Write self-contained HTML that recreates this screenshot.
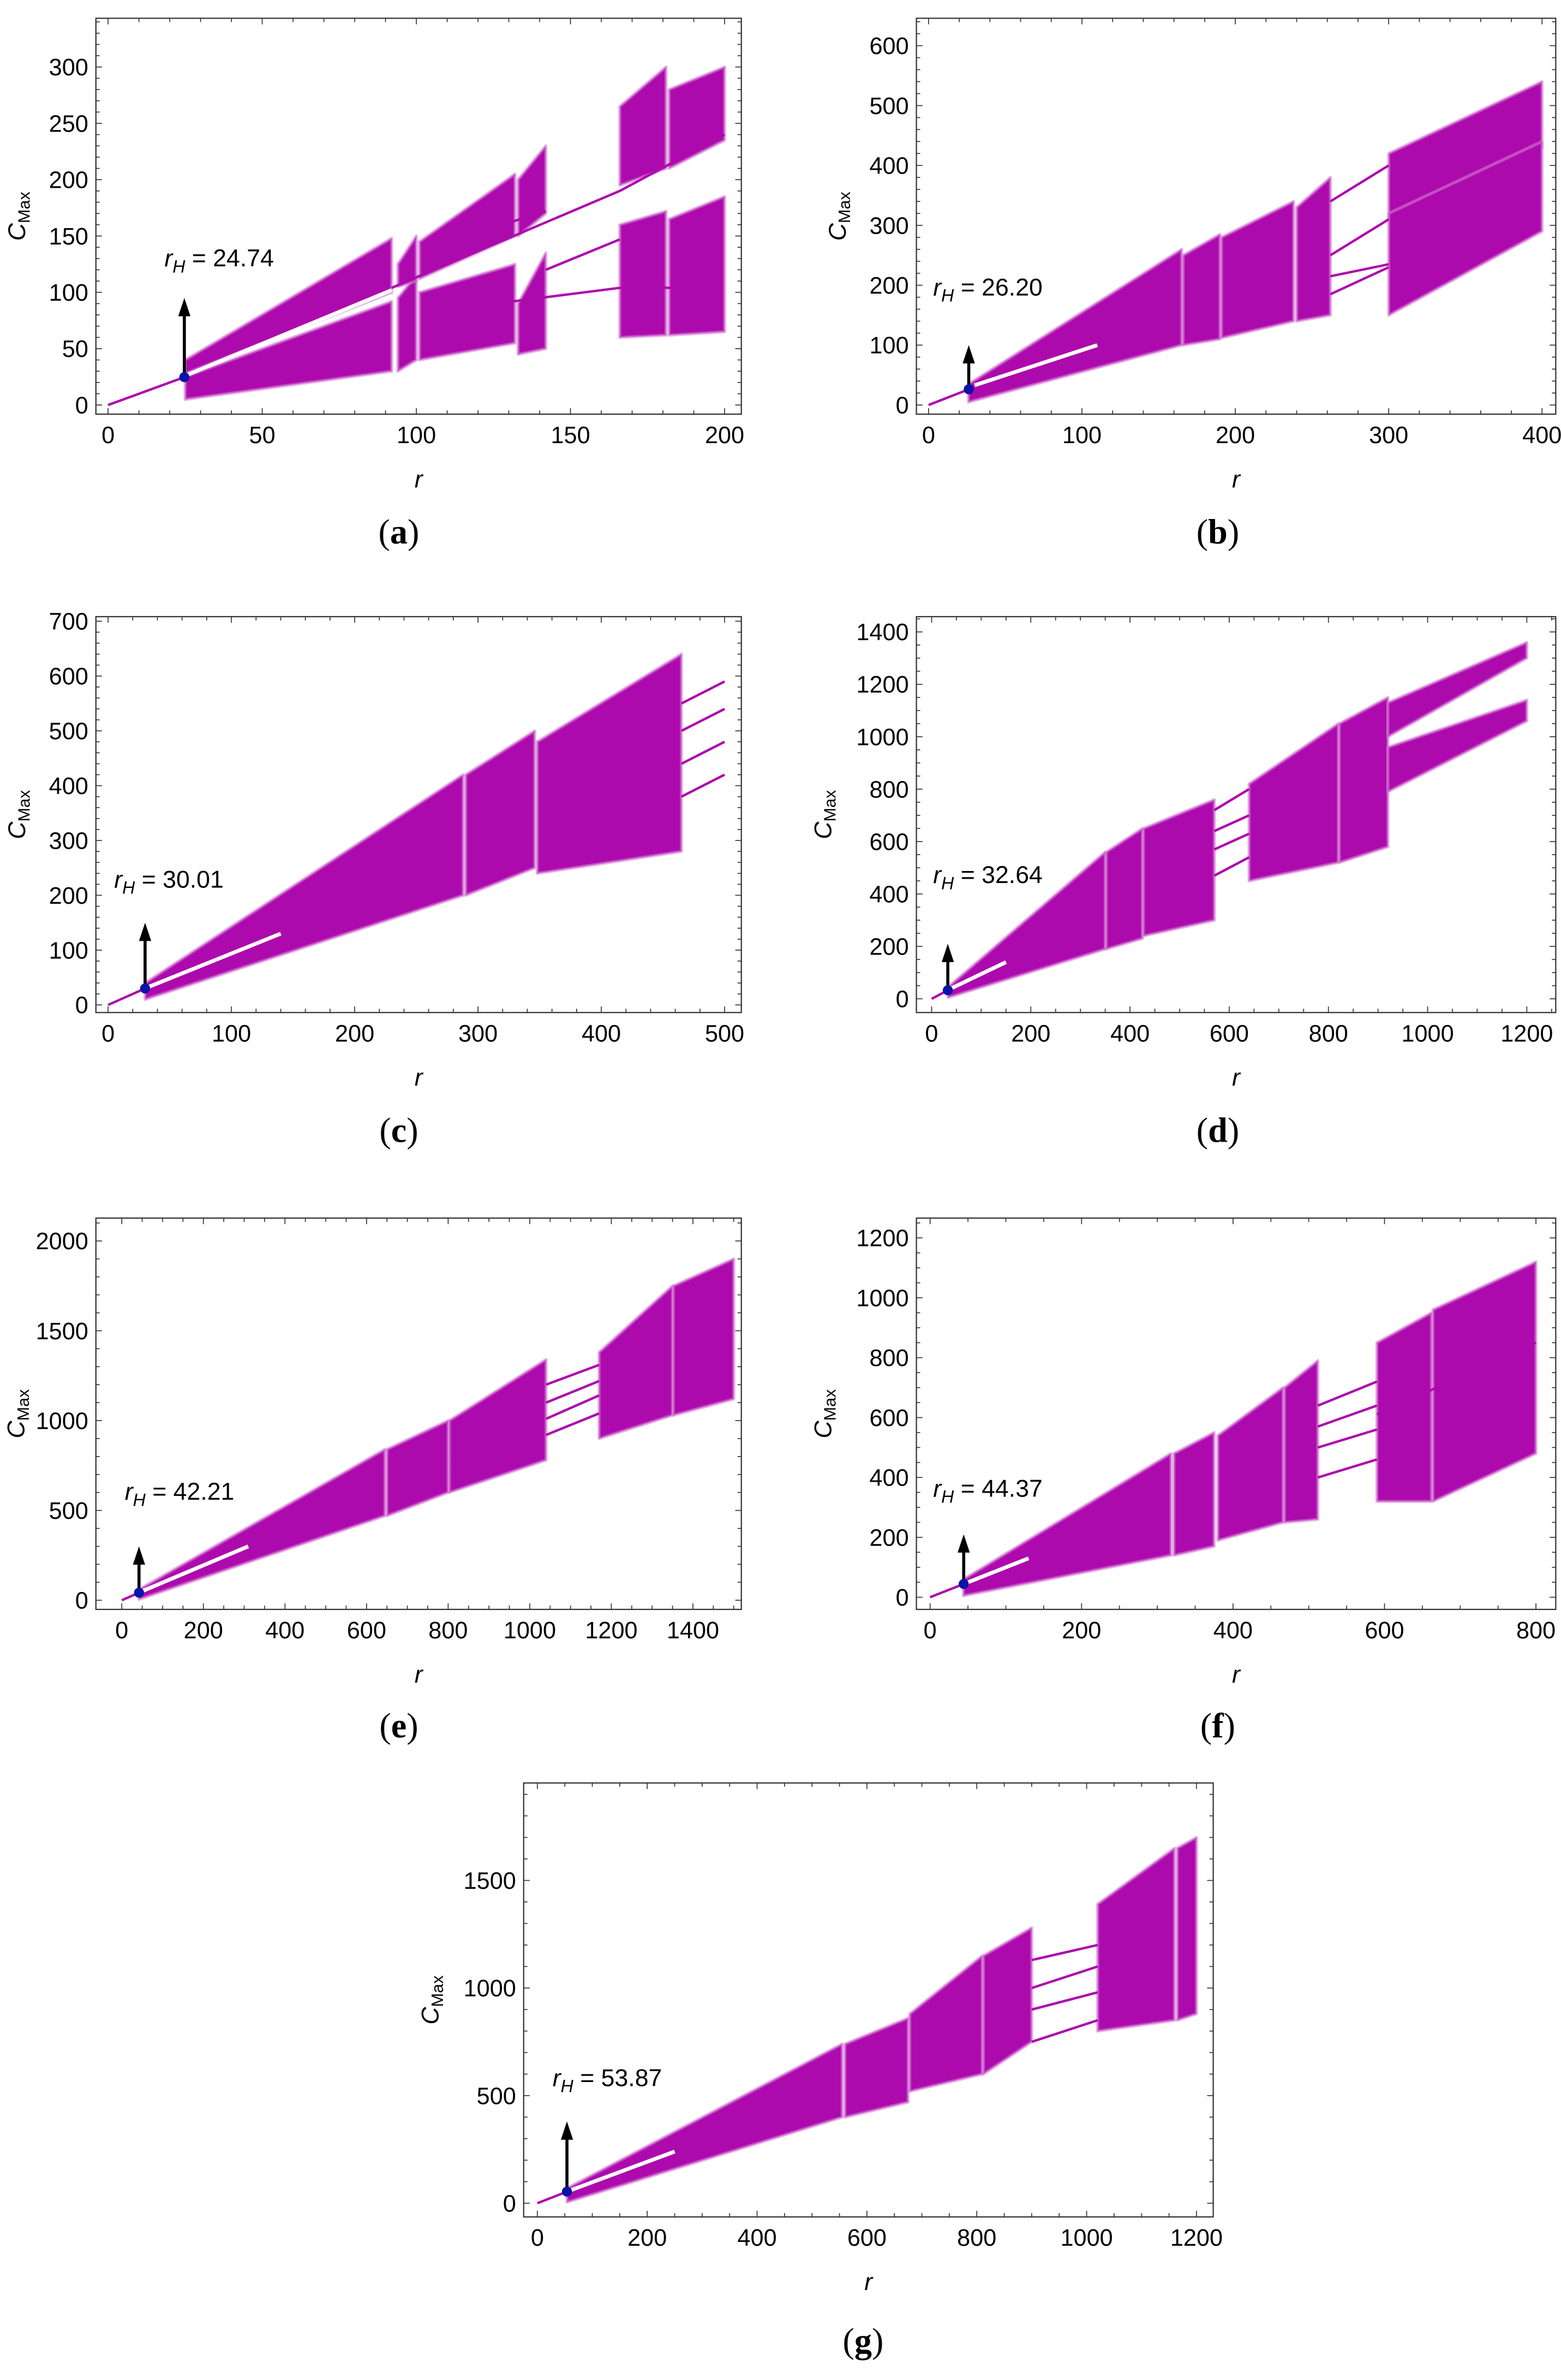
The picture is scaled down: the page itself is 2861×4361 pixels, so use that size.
<!DOCTYPE html>
<html><head><meta charset="utf-8">
<style>
html,body{margin:0;padding:0;background:#fff;}
svg{display:block;}
</style></head>
<body>
<svg id="fig" xmlns="http://www.w3.org/2000/svg" width="2861" height="4361" viewBox="0 0 1025.45 1563.1" font-family="Liberation Sans, sans-serif"></svg>
<script>
// ---- data (data units: r, C_Max) ----
const panelIds = ['a','b','c','d','e','f','g'];
const rH = [24.74, 26.20, 30.01, 32.64, 42.21, 44.37, 53.87];
const arrowTop = [95, 100, 150, 210, 300, 210, 380];
// chaotic bands: [r0, r1, lo0, hi0, lo1, hi1]
const bandsA = [[25,92,5,25,30,92],[25,92,28,40,100,148],[94,100,30,95,40,115],[94,100,105,125,110,150],
  [101,132,40,100,55,125],[101,132,112,145,150,205],[133,142,45,90,50,135],[133,142,150,200,170,230],
  [166,181,60,160,62,172],[182,200,62,165,65,185],[166,181,195,265,210,300],[182,200,210,280,235,300]];
const bandsB = [[26,165,5,35,100,260],[166,190,100,250,110,285],[191,238,112,280,140,340],[240,262,140,330,150,380],
  [300,400,310,420,430,540],[300,400,150,320,290,440]];
const bandsC = [[30,288,10,40,200,420],[290,346,200,420,250,500],[348,465,240,480,280,640]];
const bandsD = [[33,350,5,45,190,560],[352,425,190,560,230,650],[427,570,240,650,300,760],
  [640,820,450,820,520,1050],[822,920,520,1050,580,1150],[920,1200,1000,1130,1300,1360],[920,1200,790,960,1060,1140]];
const bandsE = [[42,645,5,60,470,840],[650,800,470,840,600,1000],[803,1040,600,1000,780,1340],
  [1170,1350,900,1380,1030,1750],[1352,1500,1030,1750,1120,1900]];
const bandsF = [[44,318,5,60,140,480],[322,375,140,480,170,550],[380,466,190,540,250,700],[468,512,250,700,260,790],
  [590,662,320,850,320,950],[664,800,320,960,480,1120]];
const bandsG = [[54,555,5,70,400,740],[560,675,400,740,470,860],[678,810,520,880,600,1150],[812,900,600,1150,750,1280],
  [1020,1160,800,1390,850,1650],[1165,1200,850,1650,880,1700]];
// periodic branches: [r0, y0, r1, y1]
const linesA = [[0,0,25,25],[92,104,166,190],[166,190,200,240],[122,155,142,172],[142,120,166,147],[120,88,166,104],[166,104,195,104]];
const linesB = [[0,0,26,26],[262,340,300,400],[262,250,300,310],[262,215,300,235],[262,185,300,230]];
const linesC = [[0,0,30,30],[465,550,500,590],[465,500,500,540],[465,440,500,480],[465,380,500,420]];
const linesD = [[0,0,33,33],[570,720,640,800],[570,640,640,700],[570,570,640,630],[570,470,640,540]];
const linesE = [[0,0,42,42],[1040,1200,1170,1310],[1040,1100,1170,1220],[1040,1010,1170,1140],[1040,920,1170,1040]];
const linesF = [[0,0,44,44],[512,640,590,720],[512,570,590,640],[512,500,590,560],[512,400,590,460],[590,610,800,850]];
const linesG = [[0,0,54,54],[900,1130,1020,1200],[900,1000,1020,1100],[900,900,1020,980],[900,750,1020,850]];
// white gaps inside the bands: [r0, y0, r1, y1]
const gapsA = [[25,26,92,102]];
const gapsB = [[30,33,110,100]];
const gapsC = [[33,33,140,130]];
const gapsD = [[35,36,150,140]];
const gapsE = [[45,46,310,300]];
const gapsF = [[46,46,130,130]];
const gapsG = [[58,58,250,240]];
const xTicks = [[0,50,100,150,200],[0,100,200,300,400],[0,100,200,300,400,500],[0,200,400,600,800,1000,1200],
  [0,200,400,600,800,1000,1200,1400],[0,200,400,600,800],[0,200,400,600,800,1000,1200]];
const yTicks = [[0,50,100,150,200,250,300],[0,100,200,300,400,500,600],[0,100,200,300,400,500,600,700],
  [0,200,400,600,800,1000,1200,1400],[0,500,1000,1500,2000],[0,200,400,600,800,1000,1200],[0,500,1000,1500]];
const xMinorStep = [10,20,20,50,50,50,50];
const yMinorStep = [10,20,20,50,100,50,100];
const allBands = [bandsA,bandsB,bandsC,bandsD,bandsE,bandsF,bandsG];
const allLines = [linesA,linesB,linesC,linesD,linesE,linesF,linesG];
const allGaps = [gapsA,gapsB,gapsC,gapsD,gapsE,gapsF,gapsG];

// ---- layout (pixel units of viewBox) ----
const layout = [
 {f:[63,487,12,272], xm:[0,71,200,476], ym:[0,266,300,44], lab:[262,357], lx:108, ly:175},
 {f:[602,1022,12,272], xm:[0,610,400,1013], ym:[0,266,600,30], lab:[800,357], lx:613, ly:194},
 {f:[63,487,405,665], xm:[0,71,500,476], ym:[0,660,700,408], lab:[262,750], lx:75, ly:583},
 {f:[602,1022,405,665], xm:[0,612,1200,1003], ym:[0,656,1400,415], lab:[800,750], lx:613, ly:580},
 {f:[63,487,800,1057], xm:[0,80,1500,482], ym:[0,1051,2000,815], lab:[262,1141], lx:82, ly:985},
 {f:[602,1022,800,1057], xm:[0,611,800,1009], ym:[0,1049,1200,813], lab:[800,1141], lx:613, ly:983},
 {f:[344,797,1171,1456], xm:[0,353,1200,786], ym:[0,1447,1500,1235], lab:[567,1545], lx:363, ly:1370}
];
const NS='http://www.w3.org/2000/svg';
const svg=document.getElementById('fig');
function mk(tag, attrs, parent){const e=document.createElementNS(NS,tag);for(const k in attrs)e.setAttribute(k,attrs[k]);(parent||svg).appendChild(e);return e;}
const COL='#ad0aad';
panelIds.forEach((id,i)=>{
  const L=layout[i];
  const X=v=>L.xm[1]+(v-L.xm[0])*(L.xm[3]-L.xm[1])/(L.xm[2]-L.xm[0]);
  const Y=v=>L.ym[1]+(v-L.ym[0])*(L.ym[3]-L.ym[1])/(L.ym[2]-L.ym[0]);
  const g=mk('g',{});
  
  
  const [x0,x1,y0,y1]=L.f;
  const clipId='clip'+id;
  const cp=mk('clipPath',{id:clipId},g);
  mk('rect',{x:x0,y:y0,width:x1-x0,height:y1-y0},cp);
  const plot=mk('g',{'clip-path':'url(#'+clipId+')'},g);
  
  
  allBands[i].forEach(b=>{
    const p=mk('polygon',{points:`${X(b[0])},${Y(b[2])} ${X(b[1])},${Y(b[4])} ${X(b[1])},${Y(b[5])} ${X(b[0])},${Y(b[3])}`,fill:COL,stroke:'#d27ad2','stroke-width':2,'stroke-opacity':0.6,'stroke-linejoin':'round'},plot);
    
    
  });
  allGaps[i].forEach(b=>{
    const l=mk('line',{x1:X(b[0]),y1:Y(b[1]),x2:X(b[2]),y2:Y(b[3]),stroke:'#fff','stroke-width':2.5},plot);
    
    
  });
  allLines[i].forEach(b=>{
    const l=mk('line',{x1:X(b[0]),y1:Y(b[1]),x2:X(b[2]),y2:Y(b[3]),stroke:COL,'stroke-width':1.6},plot);
    
    
  });
  const fr=mk('rect',{x:x0,y:y0,width:x1-x0,height:y1-y0,fill:'none',stroke:'#333','stroke-width':0.8},g);
  
  
  const xt=xTicks[i], yt=yTicks[i];
  const xmax=(x1-L.xm[1])/(L.xm[3]-L.xm[1])*(L.xm[2]-L.xm[0]);
  for(let v=0; v<=xmax; v+=xMinorStep[i]){
    const major=xt.includes(v), len=major?4:2.5, px=X(v);
    mk('line',{x1:px,y1:y1,x2:px,y2:y1-len,stroke:'#333','stroke-width':0.6},g);
    mk('line',{x1:px,y1:y0,x2:px,y2:y0+len,stroke:'#333','stroke-width':0.6},g);
  }
  const ymax=(L.f[2]-L.ym[1])/(L.ym[3]-L.ym[1])*(L.ym[2]-L.ym[0]);
  for(let v=0; v<=ymax; v+=yMinorStep[i]){
    const major=yt.includes(v), len=major?4:2.5, py=Y(v);
    mk('line',{x1:x0,y1:py,x2:x0+len,y2:py,stroke:'#333','stroke-width':0.6},g);
    mk('line',{x1:x1,y1:py,x2:x1-len,y2:py,stroke:'#333','stroke-width':0.6},g);
  }
  let maxChars=1;
  xt.forEach(v=>{
    const t=mk('text',{x:X(v),y:y1+19,'text-anchor':'middle','font-size':15.5},g);
    t.textContent=v;
    
    
  });
  yt.forEach(v=>{
    maxChars=Math.max(maxChars,String(v).length);
    const t=mk('text',{x:x0-5,y:Y(v)+5.5,'text-anchor':'end','font-size':15.5},g);
    t.textContent=v;
    
    
  });
  const xtitle=mk('text',{x:(x0+x1)/2,y:y1+48,'text-anchor':'middle','font-size':16,'font-style':'italic'},g);
  xtitle.textContent='r';
  
  
  const cy=(y0+y1)/2, cx=Math.max(16, x0-(18+maxChars*9.5));
  const yt2=mk('text',{x:cx,y:cy,'text-anchor':'middle','font-size':16,'font-style':'italic',transform:`rotate(-90 ${cx} ${cy})`},g);
  yt2.innerHTML='C<tspan font-size="11" font-style="normal" dy="3">Max</tspan>';
  
  
  const ax=X(rH[i]), ay=Y(rH[i]), at=Y(arrowTop[i]);
  const ar=mk('line',{x1:ax,y1:ay,x2:ax,y2:at+10,stroke:'#000','stroke-width':2},g);
  
  
  mk('polygon',{points:`${ax},${at} ${ax-4},${at+12} ${ax+4},${at+12}`,fill:'#000'},g);
  const dot=mk('circle',{cx:ax,cy:ay,r:3.3,fill:'#0a14a8'},g);
  
  
  const lt=mk('text',{x:L.lx,y:L.ly,'font-size':16},g);
  lt.innerHTML='<tspan font-style="italic">r</tspan><tspan font-style="italic" font-size="11.5" dy="4">H</tspan><tspan dy="-4"> = '+rH[i].toFixed(2)+'</tspan>';
  
  
  const pl=mk('text',{x:L.lab[0],y:L.lab[1],'text-anchor':'middle','font-size':23,style:'font-family:"Liberation Serif",serif'},g);
  pl.innerHTML='(<tspan font-weight="bold">'+id+'</tspan>)';
  
  
});
</script>
</body></html>
